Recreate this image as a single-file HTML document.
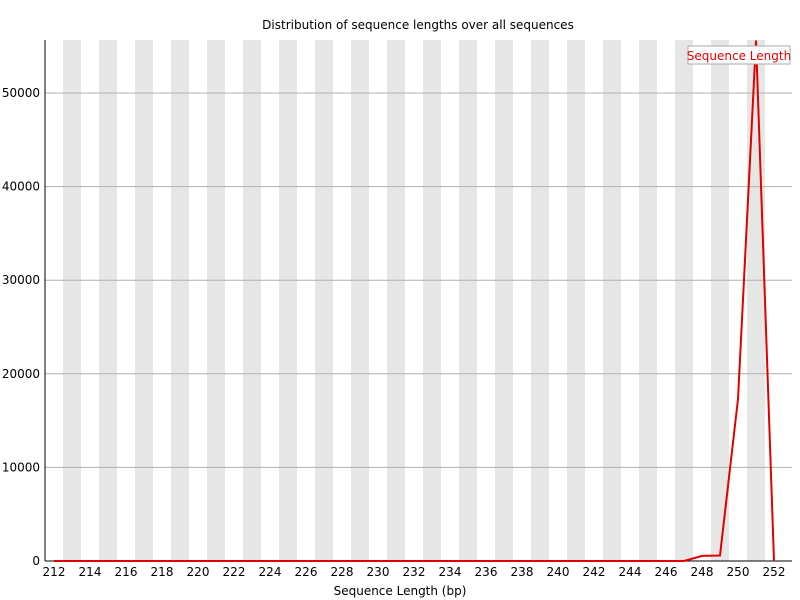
<!DOCTYPE html>
<html><head><meta charset="utf-8"><style>
body{margin:0;background:#fff}
svg{display:block;font-family:"DejaVu Sans","Liberation Sans",sans-serif}
</style></head><body>
<svg id="chart" width="800" height="600">
<text x="418" y="29" font-size="12" text-anchor="middle">Distribution of sequence lengths over all sequences</text>
<g id="stripes"></g><g id="grid"></g><g id="xt"></g><g id="yt"></g>
<line x1="45" y1="40" x2="45" y2="561" stroke="#000"/>
<line x1="45" y1="561" x2="792" y2="561" stroke="#000"/>
<path id="line" fill="none" stroke="#e00000" stroke-width="2"/>
<g>
<rect x="688" y="46" width="102" height="18" fill="#fff" stroke="#aaa"/>
<text x="739" y="60" font-size="12" fill="#e00000" text-anchor="middle">Sequence Length</text>
</g>
<text x="400" y="595" font-size="12" text-anchor="middle">Sequence Length (bp)</text>
</svg>
<script>
const categories=[];for(let c=212;c<=252;c++)categories.push(c);
const values=[0,0,0,0,0,0,0,0,0,0,0,0,0,0,0,0,0,0,0,0,0,0,0,0,0,0,0,0,0,0,0,0,0,0,0,0,550,590,17300,55600,0];
const yTicks=[0,10000,20000,30000,40000,50000];
const NS="http://www.w3.org/2000/svg";
const xS=i=>54+18*i;
const yS=v=>561-v*468/50000;
function mk(t,a,p){const e=document.createElementNS(NS,t);for(const k in a)e.setAttribute(k,a[k]);p.appendChild(e);return e;}
const st=document.getElementById('stripes'),gr=document.getElementById('grid'),xt=document.getElementById('xt'),yt=document.getElementById('yt');
categories.forEach((c,i)=>{
 if(i%2===1){const r=mk('rect',{x:xS(i)-9,y:40,width:18,height:521,fill:'#e6e6e6'},st);
 
 }
 if(i%2===0){const t=mk('text',{x:xS(i),y:576,'font-size':12,'text-anchor':'middle'},xt);t.textContent=c;
 
 }
});
yTicks.forEach(v=>{
 if(v>0){const l=mk('line',{x1:45,x2:792,y1:yS(v),y2:yS(v),stroke:'#b0b0b0'},gr);
 
 }
 const t=mk('text',{x:40,y:yS(v)+4,'font-size':12,'text-anchor':'end'},yt);t.textContent=v;
 
 
});
document.getElementById('line').setAttribute('d',values.map((v,i)=>(i?'L':'M')+xS(i)+' '+yS(v)).join(' '));
</script>
</body></html>
